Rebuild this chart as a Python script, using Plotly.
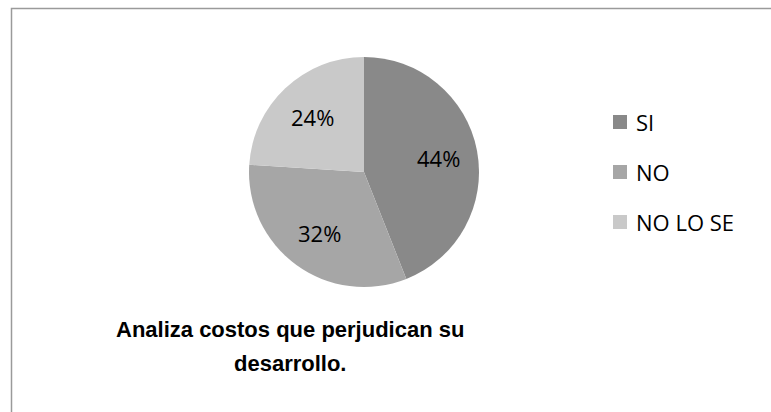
import math
import plotly.graph_objects as go

# Survey answers and their shares
categories = ["SI", "NO", "NO LO SE"]
values = [44, 32, 24]
colors = ["#898989", "#a6a6a6", "#c9c9c9"]
title_lines = ["Analiza costos que perjudican su", "desarrollo."]

W, H = 771, 412
label_font = dict(family="Open Sans, Noto Sans, sans-serif", size=22, color="#000000")
title_font = dict(family="Liberation Sans, Arial, sans-serif", size=22, color="#000000")

# Pie placement in pixels
cx, cy, radius = 364, 172, 115

fig = go.Figure()
fig.add_trace(go.Pie(
    labels=categories,
    values=values,
    sort=False,
    direction="clockwise",
    rotation=0,
    marker=dict(colors=colors, line=dict(width=0)),
    textinfo="none",
    showlegend=False,
    hoverinfo="label+percent",
    domain=dict(x=[(cx - radius) / W, (cx + radius) / W],
                y=[1 - (cy + radius) / H, 1 - (cy - radius) / H]),
))

shapes = []
annotations = []

# Percentage labels placed along each slice's mid-angle
total = sum(values)
start = 0.0
for v in values:
    mid = (start + v / 2) / total * 2 * math.pi
    start += v
    px = cx + 0.66 * radius * math.sin(mid)
    py = cy - 0.66 * radius * math.cos(mid)
    annotations.append(dict(text=f"{round(100 * v / total)}%", xref="paper", yref="paper",
                            x=px / W, y=1 - py / H, xanchor="center", yanchor="middle",
                            showarrow=False, font=label_font))

# Legend: swatch plus label for each category
legend_y = [122, 172, 222]
for cat, col, yy in zip(categories, colors, legend_y):
    shapes.append(dict(type="rect", xref="paper", yref="paper",
                       x0=613 / W, x1=627 / W, y0=1 - (yy + 7) / H, y1=1 - (yy - 7) / H,
                       fillcolor=col, line=dict(width=0)))
    annotations.append(dict(text=cat, xref="paper", yref="paper",
                            x=634 / W, y=1 - yy / H, xanchor="left", yanchor="middle",
                            showarrow=False, font=label_font))

# Two-line bold chart title below the pie
for line, yy in zip(title_lines, [329, 363]):
    annotations.append(dict(text=f"<b>{line}</b>", xref="paper", yref="paper",
                            x=290 / W, y=1 - yy / H, xanchor="center", yanchor="middle",
                            showarrow=False, font=title_font))

# Chart area frame
shapes.append(dict(type="rect", xref="paper", yref="paper",
                   x0=11.5 / W, x1=1.02, y0=-0.02, y1=1 - 8.5 / H,
                   line=dict(color="#9a9a9a", width=1.5), fillcolor="rgba(0,0,0,0)"))

fig.update_layout(
    width=W, height=H,
    margin=dict(l=0, r=0, t=0, b=0),
    paper_bgcolor="#ffffff",
    plot_bgcolor="#ffffff",
    shapes=shapes,
    annotations=annotations,
)

fig.write_html("out.html")
